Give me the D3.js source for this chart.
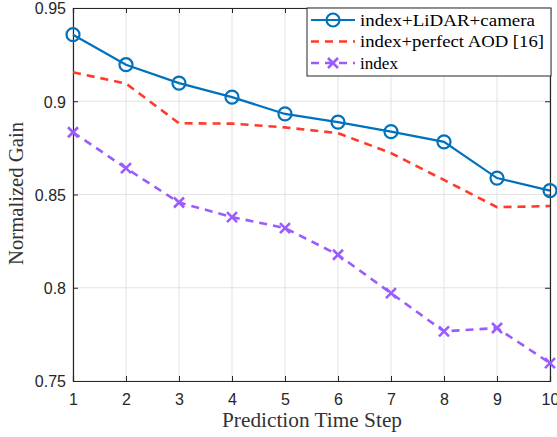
<!DOCTYPE html>
<html>
<head>
<meta charset="utf-8">
<script src="https://cdn.jsdelivr.net/npm/d3@7"></script>
<style>
  html, body { margin: 0; padding: 0; background: #fff; }
  svg { display: block; }
</style>
</head>
<body>
<div id="chart"></div>
<script>
// Data
const steps = [1, 2, 3, 4, 5, 6, 7, 8, 9, 10];
const lidarCamera = [0.9357, 0.9196, 0.9097, 0.9022, 0.8932, 0.8888, 0.8837, 0.8782, 0.8588, 0.8521];
const perfectAOD = [0.9155, 0.9095, 0.8882, 0.8880, 0.8860, 0.8829, 0.8722, 0.8578, 0.8432, 0.8438];
const indexOnly = [0.8834, 0.8641, 0.8457, 0.8379, 0.8320, 0.8177, 0.7971, 0.7766, 0.7784, 0.7596];
const yTicks = [0.75, 0.8, 0.85, 0.9, 0.95];
const yTickLabels = ['0.75', '0.8', '0.85', '0.9', '0.95'];

const seriesList = [
  { name: 'index+LiDAR+camera', values: lidarCamera, color: '#0072BD', dash: null, marker: 'circle', textW: 175 },
  { name: 'index+perfect AOD [16]', values: perfectAOD, color: '#FF3A2A', dash: '8,6', marker: null, textW: 184 },
  { name: 'index', values: indexOnly, color: '#9B5CFF', dash: '8,6', marker: 'cross', textW: 38 }
];

const width = 557, height = 437;
const margin = { top: 8, right: 7, bottom: 56, left: 73 };
const plotW = width - margin.left - margin.right;
const plotH = height - margin.top - margin.bottom;

const tickFont = '"Liberation Sans", Arial, sans-serif';
const serifFont = '"Liberation Serif", "DejaVu Serif", serif';
const axisColor = '#262626';

const svg = d3.select('#chart').append('svg')
  .attr('width', width)
  .attr('height', height);

const x = d3.scaleLinear().domain([1, 10]).range([0, plotW]);
const y = d3.scaleLinear().domain([0.75, 0.95]).range([plotH, 0]);

const g = svg.append('g')
  .attr('transform', `translate(${margin.left},${margin.top})`);

// Grid lines
g.append('g')
  .selectAll('line.vgrid')
  .data(steps)
  .join('line')
  .attr('x1', d => x(d)).attr('x2', d => x(d))
  .attr('y1', 0).attr('y2', plotH)
  .attr('stroke', '#e3e3e3')
  .attr('stroke-width', 1);

g.append('g')
  .selectAll('line.hgrid')
  .data(yTicks)
  .join('line')
  .attr('x1', 0).attr('x2', plotW)
  .attr('y1', d => y(d)).attr('y2', d => y(d))
  .attr('stroke', '#e3e3e3')
  .attr('stroke-width', 1);

// Axes (inward ticks, box on)
const xAxis = d3.axisBottom(x).tickValues(steps).tickSize(-5).tickPadding(13).tickFormat(d3.format('d'));
const yAxis = d3.axisLeft(y).tickValues(yTicks).tickSize(-5).tickPadding(7)
  .tickFormat((d, i) => yTickLabels[i]);

const gx = g.append('g').attr('transform', `translate(0,${plotH})`).call(xAxis);
const gy = g.append('g').call(yAxis);
const gxTop = g.append('g').call(d3.axisTop(x).tickValues(steps).tickSize(-5).tickFormat(''));
const gyRight = g.append('g').attr('transform', `translate(${plotW},0)`)
  .call(d3.axisRight(y).tickValues(yTicks).tickSize(-5).tickFormat(''));

[gx, gy, gxTop, gyRight].forEach(a => {
  a.select('.domain').attr('stroke', axisColor).attr('stroke-width', 1.2);
  a.selectAll('.tick line').attr('stroke', axisColor);
  a.selectAll('.tick text')
    .attr('fill', axisColor)
    .style('font-family', tickFont)
    .style('font-size', '16px');
});
gy.selectAll('.tick text').attr('dy', '0.36em');

// Lines and markers
const line = d3.line()
  .x((d, i) => x(steps[i]))
  .y(d => y(d));

seriesList.forEach(s => {
  g.append('path')
    .datum(s.values)
    .attr('d', line)
    .attr('fill', 'none')
    .attr('stroke', s.color)
    .attr('stroke-width', s.dash ? 2.6 : 2.2)
    .attr('stroke-dasharray', s.dash);

  if (s.marker === 'circle') {
    g.selectAll(null)
      .data(s.values)
      .join('circle')
      .attr('cx', (d, i) => x(steps[i]))
      .attr('cy', d => y(d))
      .attr('r', 6.5)
      .attr('fill', 'none')
      .attr('stroke', s.color)
      .attr('stroke-width', 2.2);
  } else if (s.marker === 'cross') {
    g.selectAll(null)
      .data(s.values)
      .join('path')
      .attr('transform', (d, i) => `translate(${x(steps[i])},${y(d)})`)
      .attr('d', 'M-5,-5L5,5M-5,5L5,-5')
      .attr('fill', 'none')
      .attr('stroke', s.color)
      .attr('stroke-width', 2.6);
  }
});

// Legend
const legend = svg.append('g').attr('transform', 'translate(307,8)');
legend.append('rect')
  .attr('x', 0).attr('y', 0)
  .attr('width', 244).attr('height', 68)
  .attr('fill', '#fff')
  .attr('stroke', axisColor)
  .attr('stroke-width', 1);

seriesList.forEach((s, i) => {
  const row = legend.append('g').attr('transform', `translate(0,${12 + i * 21.5})`);
  row.append('line')
    .attr('x1', 4).attr('x2', 48)
    .attr('y1', 0).attr('y2', 0)
    .attr('stroke', s.color)
    .attr('stroke-width', s.dash ? 2.6 : 2.2)
    .attr('stroke-dasharray', s.dash);
  if (s.marker === 'circle') {
    row.append('circle').attr('cx', 26).attr('cy', 0).attr('r', 6.5)
      .attr('fill', 'none').attr('stroke', s.color).attr('stroke-width', 2.2);
  } else if (s.marker === 'cross') {
    row.append('path').attr('transform', 'translate(26,0)')
      .attr('d', 'M-5,-5L5,5M-5,5L5,-5')
      .attr('fill', 'none').attr('stroke', s.color).attr('stroke-width', 2.6);
  }
  row.append('text')
    .attr('x', 53).attr('y', 0).attr('dy', '0.35em')
    .attr('fill', '#000')
    .attr('textLength', s.textW)
    .attr('lengthAdjust', 'spacingAndGlyphs')
    .style('font-family', serifFont)
    .style('font-size', '17px')
    .text(s.name);
});

// Axis titles
svg.append('text')
  .attr('x', 222)
  .attr('y', 427)
  .attr('textLength', 180)
  .attr('lengthAdjust', 'spacingAndGlyphs')
  .attr('fill', '#333')
  .style('font-family', serifFont)
  .style('font-size', '20px')
  .text('Prediction Time Step');

svg.append('text')
  .attr('transform', 'translate(23,265) rotate(-90)')
  .attr('textLength', 143)
  .attr('lengthAdjust', 'spacingAndGlyphs')
  .attr('fill', '#333')
  .style('font-family', serifFont)
  .style('font-size', '20px')
  .text('Normalized Gain');
</script>
</body>
</html>
